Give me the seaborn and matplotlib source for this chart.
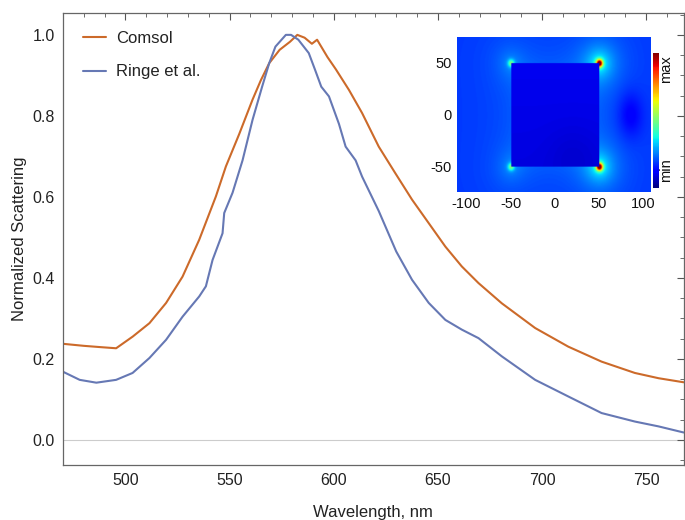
import numpy as np
import pandas as pd
import matplotlib
matplotlib.use("Agg")
import matplotlib.pyplot as plt
from matplotlib.ticker import MultipleLocator
import seaborn as sns

# ---- data ----
comsol_wl = [470, 480, 487.5, 495.5, 503.5, 511.5, 519.5, 527.4, 535.4, 543.4, 548.2, 554.6,
             561, 565, 569, 574, 579, 582.5, 586, 589.5, 592, 597, 601, 607.3, 613.6,
             621.6, 629.6, 637.6, 645.6, 653.6, 661.5, 669.5, 680.7, 696.7, 712.6, 728.6,
             744.6, 756, 768]
comsol = [0.237, 0.232, 0.229, 0.226, 0.255, 0.288, 0.338, 0.403, 0.494, 0.601, 0.675, 0.755,
          0.84, 0.888, 0.93, 0.963, 0.983, 1.0, 0.993, 0.978, 0.988, 0.945, 0.915, 0.864,
          0.807, 0.724, 0.658, 0.593, 0.535, 0.477, 0.428, 0.387, 0.337, 0.276, 0.230,
          0.193, 0.165, 0.152, 0.142]

ringe_wl = [470, 478, 486, 495.5, 503.4, 511.5, 519.5, 527.4, 535.4, 538.6, 541.8, 546.6,
            547.4, 551.4, 556.2, 561, 565.6, 569, 572, 577, 579.5, 583, 588, 591, 594,
            597.7, 602.5, 605.7, 610.5, 613.6, 621.6, 630, 637.6, 645.6, 653.6, 661.5,
            669.5, 680.7, 696.7, 712.6, 728.6, 744.6, 756, 768]
ringe = [0.168, 0.148, 0.141, 0.148, 0.165, 0.202, 0.247, 0.304, 0.354, 0.379, 0.444, 0.51,
         0.56, 0.61, 0.69, 0.79, 0.872, 0.93, 0.971, 1.0, 1.0, 0.988, 0.955, 0.914,
         0.872, 0.848, 0.78, 0.724, 0.69, 0.65, 0.565, 0.465, 0.395, 0.338, 0.296, 0.272,
         0.251, 0.206, 0.148, 0.107, 0.066, 0.045, 0.033, 0.018]

series_names = ["Comsol", "Ringe et al."]
x_ticks = [500, 550, 600, 650, 700, 750]
y_ticks = [0.0, 0.2, 0.4, 0.6, 0.8, 1.0]

# inset field description: corner hot-spot strengths (x, y, strength)
corner_x = [50, 50, -50, -50]
corner_y = [50, -50, 50, -50]
corner_strength = [1.0, 1.0, 0.3, 0.3]
inset_xticks = [-100, -50, 0, 50, 100]
inset_yticks = [-50, 0, 50]

# ---- style ----
sns.set_style("white")
plt.rcParams["font.family"] = ["Liberation Sans", "DejaVu Sans"]
plt.rcParams["axes.unicode_minus"] = False

fig = plt.figure(figsize=(6.85, 5.2), dpi=100)
ax = fig.add_axes([0.092, 0.106, 0.906, 0.869])

orange = "#CC6A2A"
blue = "#6678B4"

df_c = pd.DataFrame({"wl": comsol_wl, "val": comsol})
df_r = pd.DataFrame({"wl": ringe_wl, "val": ringe})
sns.lineplot(data=df_c, x="wl", y="val", ax=ax, color=orange, lw=1.5, label=series_names[0])
sns.lineplot(data=df_r, x="wl", y="val", ax=ax, color=blue, lw=1.5, label=series_names[1])
ax.axhline(0, color="#cccccc", lw=0.8, zorder=0)

ax.set_xlim(470, 768)
ax.set_ylim(-0.062, 1.054)
ax.set_xticks(x_ticks)
ax.set_yticks(y_ticks)
ax.set_yticklabels([f"{v:.1f}" for v in y_ticks])
ax.xaxis.set_minor_locator(MultipleLocator(10))
ax.yaxis.set_minor_locator(MultipleLocator(0.05))
ax.tick_params(which="both", direction="in", top=True, right=True, color="#555555")
ax.tick_params(which="major", length=5, width=0.8, labelsize=11.5, pad=6, labelcolor="#222222")
ax.tick_params(which="minor", length=3, width=0.6)
for s in ax.spines.values():
    s.set_color("#666666")
    s.set_linewidth(0.9)
ax.set_xlabel("Wavelength, nm", fontsize=12, labelpad=12, color="#222222")
ax.set_ylabel("Normalized Scattering", fontsize=12, labelpad=4, color="#222222")

leg = ax.legend(loc="upper left", frameon=False, fontsize=12, handlelength=1.4,
                handletextpad=0.6, labelspacing=1.1, bbox_to_anchor=(0.008, 0.993))
for t in leg.get_texts():
    t.set_color("#222222")

# ---- inset field map ----
iax = fig.add_axes([0.667, 0.631, 0.282, 0.298])
gx = np.linspace(-111, 108, 300)
gy = np.linspace(-74, 75, 220)
X, Y = np.meshgrid(gx, gy)
inside = (np.abs(X) < 50) & (np.abs(Y) < 50)
field = np.full_like(X, 0.18)
dx = np.maximum(np.abs(X) - 50, 0)
dy = np.maximum(np.abs(Y) - 50, 0)
dist_sq = np.sqrt(dx ** 2 + dy ** 2)
field += 0.03 * np.exp(-dist_sq / 25)
for cx, cy, st in zip(corner_x, corner_y, corner_strength):
    r = np.hypot(X - cx, Y - cy)
    field += st * 0.75 * np.exp(-(r / 3.5) ** 2) + st * 0.25 * np.exp(-r / 12)
field -= 0.07 * np.exp(-(((X - 85) / 14) ** 2 + (Y / 22) ** 2))
field = np.where(inside, 0.085 + 0.015 * (Y + 50) / 100
                 - 0.015 * np.exp(-((X - 20) ** 2 + (Y + 40) ** 2) / 800), field)
field = np.clip(field, 0, 1)
iax.imshow(field, extent=[gx[0], gx[-1], gy[0], gy[-1]], origin="lower", cmap="jet",
           vmin=0, vmax=1, aspect="auto", interpolation="bilinear")
iax.set_xticks(inset_xticks)
iax.set_yticks(inset_yticks)
iax.tick_params(labelsize=10.5, length=2, width=0.6, pad=1.5, color="#333333",
                labelcolor="#111111")
for s in iax.spines.values():
    s.set_visible(False)

# colorbar
cax = fig.add_axes([0.954, 0.638, 0.0075, 0.26])
grad = np.linspace(0, 1, 100).reshape(-1, 1)
cax.imshow(grad, cmap="jet", origin="lower", aspect="auto", extent=[0, 1, 0, 1])
cax.set_xticks([])
cax.set_yticks([])
for s in cax.spines.values():
    s.set_visible(False)
fig.text(0.972, 0.868, "max", rotation=90, fontsize=10.5, ha="center", va="center",
         color="#111111")
fig.text(0.972, 0.672, "min", rotation=90, fontsize=10.5, ha="center", va="center",
         color="#111111")

fig.savefig("out.png", dpi=100)
